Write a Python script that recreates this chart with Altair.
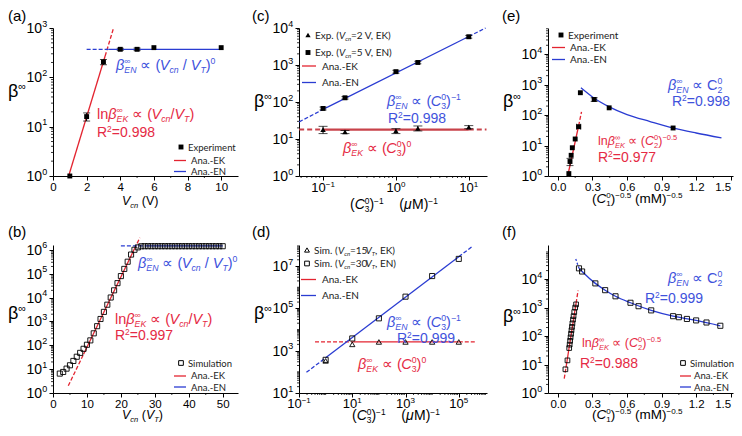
import math
import altair as alt
import pandas as pd

FONT = "Liberation Sans"
LFONT = "Lato"
RED_L = "#e32430"
BLUE_L = "#2a3cd2"
RED_T = "#e52a44"
BLUE_T = "#4052dc"
DARK_RED = "#c8424a"

# ---------------- data ----------------
# (a) experiment
a_x = [1, 2, 3, 4, 5, 6, 10]
a_y = [1.0, 16, 205, 370, 370, 400, 400]
a_err = [0, 3, 25, 18, 22, 0, 0]
a_ek_x = [0.93, 3.1, 3.6]
a_ek_y = [1.0, 270, 1000]
a_en_x = [2.0, 3.3, 10]
a_en_y = [370, 370, 370]

# (b) simulation
b_x = [2, 3, 4, 5, 6, 7, 8, 9, 10, 11, 12, 13, 14, 15, 16, 17, 18, 19, 20, 21, 22, 23, 24, 25,
       26, 27, 28, 29, 30, 31, 32, 33, 34, 35, 36, 37, 38, 39, 40, 41, 42, 43, 44, 45, 46, 47, 48, 49, 50]
b_y = [6.5, 7.6, 10.5, 14.5, 22, 33, 48, 71, 105, 160, 316, 630, 1260, 2500, 5000, 10000, 20000,
       40000, 79000, 158000, 316000, 630000, 1000000, 1260000,
       1400000, 1410000, 1410000, 1410000, 1410000, 1410000, 1410000, 1410000, 1410000, 1410000,
       1410000, 1410000, 1410000, 1410000, 1410000, 1410000, 1410000, 1410000, 1410000, 1410000,
       1410000, 1410000, 1410000, 1410000, 1410000]
b_ek_x = [4.5, 9, 24, 25.6]
b_ek_y = [2.0, 42, 1.1e6, 3.2e6]
b_en_x = [20, 27, 50]
b_en_y = [1.45e6, 1.45e6, 1.45e6]

# (c) experiment
c_x = [0.1, 0.2, 1, 2, 10]
c_en_y = [67, 130, 660, 1170, 5800]
c_en_err = [6, 10, 60, 90, 500]
c_ek_y = [18, 15.5, 16.5, 19.5, 21]
c_ek_err = [4, 1.5, 2.5, 3, 2]
c_ekl_x = [0.047, 0.1, 10, 17.5]
c_ekl_y = [18, 18, 18, 18]
c_enl_x = [0.047, 0.1, 10, 17]
c_enl_y = [29, 63, 5900, 10000]

# (d) simulation
d_x = [1, 10, 100, 1000, 1e4, 1e5]
d_en_y = [370, 3800, 34000, 360000, 3.4e6, 2.2e7]
d_ek_y = [330, 2000, 2600, 2600, 2600, 2600]
d_ekl_x = [0.4, 10, 1e5, 4e5]
d_ekl_y = [2600, 2600, 2600, 2600]
d_enl_x = [0.19, 1, 1e5, 3.2e5]
d_enl_y = [95, 460, 2.8e7, 8.5e7]

# (e) experiment
e_x = [0.095, 0.105, 0.115, 0.125, 0.15, 0.18, 0.195, 0.315, 0.445, 1.0]
e_y = [1.2, 3.0, 4.8, 8.5, 16.5, 42, 550, 330, 175, 38]
e_yerr = [0, 0.8, 0, 0, 0, 0, 0, 45, 0, 0]
e_xerr = [0, 0, 0, 0, 0, 0.018, 0, 0, 0, 0]
e_ekl_x = [0.085, 0.18, 0.205]
e_ekl_y = [1.0, 45, 130]
e_enl_x = [0.2, 0.3, 0.45, 0.6, 0.8, 1.0, 1.2, 1.42]
e_enl_y = [800, 400, 185, 105, 62, 38, 26, 18]

# (f) simulation
f_ek_x = [0.065, 0.083, 0.098, 0.102, 0.106, 0.110, 0.114, 0.118, 0.122, 0.126, 0.131, 0.136, 0.142, 0.150, 0.158]
f_ek_y = [6.8, 14, 38, 50, 68, 90, 120, 160, 210, 280, 380, 500, 700, 1000, 1300]
f_en_x = [0.183, 0.21, 0.325, 0.41, 0.5, 0.63, 0.7, 0.81, 1.0, 1.05, 1.12, 1.2, 1.29, 1.41]
f_en_y = [24000, 18600, 7100, 4100, 2500, 1480, 1120, 800, 500, 460, 400, 355, 300, 230]
f_ekl_x = [0.055, 0.07, 0.158, 0.175]
f_ekl_y = [3.2, 7.7, 1450, 4000]
f_enl_x = [0.155, 0.183, 0.21, 0.325, 0.41, 0.5, 0.63, 0.81, 1.0, 1.2, 1.41]
f_enl_y = [51000, 24000, 18600, 7100, 4100, 2500, 1480, 800, 500, 355, 230]

# ---------------- layout ----------------
P = {
    "a": dict(left=53, top=27, w=185, h=148, xt="linear", xd=[0, 11], yd=[1, 1e3]),
    "c": dict(left=299, top=27, w=188, h=148, xt="log", xd=[10 ** -1.33, 10 ** 1.25], yd=[1, 1e4]),
    "e": dict(left=548, top=27, w=185, h=148, xt="linear", xd=[-0.086, 1.52], yd=[1, 10 ** 4.87]),
    "b": dict(left=53, top=244, w=185, h=148, xt="linear", xd=[0, 54.5], yd=[1, 10 ** 6.2]),
    "d": dict(left=299, top=244, w=188, h=148, xt="log", xd=[0.1, 10 ** 6.06], yd=[10, 1e8]),
    "f": dict(left=548, top=244, w=185, h=148, xt="linear", xd=[-0.086, 1.52], yd=[1, 10 ** 5.2]),
}


def cx(p, px):
    g = P[p]
    f = (px - g["left"]) / g["w"]
    a, b = g["xd"]
    if g["xt"] == "log":
        la, lb = math.log10(a), math.log10(b)
        return 10 ** (la + f * (lb - la))
    return a + f * (b - a)


def cy(p, py):
    g = P[p]
    f = (g["top"] + g["h"] - py) / g["h"]
    la, lb = math.log10(g["yd"][0]), math.log10(g["yd"][1])
    return 10 ** (la + f * (lb - la))


AXBASE = dict(grid=False, title=None, domainColor="black", domainWidth=1, tickColor="black",
              tickWidth=1, tickSize=4, labelFont=FONT, labelColor="black", labelFontSize=11.5,
              labelPadding=1, labelOverlap=False)

SX, SY, AX, AY = {}, {}, {}, {}
for p, g in P.items():
    if g["xt"] == "log":
        SX[p] = alt.Scale(type="log", domain=g["xd"], nice=False)
    else:
        SX[p] = alt.Scale(type="linear", domain=g["xd"], nice=False, zero=False)
    SY[p] = alt.Scale(type="log", domain=g["yd"], nice=False)

AX["a"] = alt.Axis(values=[0, 2, 4, 6, 8, 10], format="d", labelFlush=False, **AXBASE)
AX["b"] = alt.Axis(values=[0, 10, 20, 30, 40, 50], format="d", labelFlush=False, **AXBASE)
AX["e"] = alt.Axis(values=[0, 0.3, 0.6, 0.9, 1.2, 1.5], format=".1f", labelFlush=4, **AXBASE)
AX["f"] = alt.Axis(values=[0, 0.3, 0.6, 0.9, 1.2, 1.5], format=".1f", labelFlush=4, **AXBASE)
AX["c"] = alt.Axis(values=[0.1, 1, 10], labels=False, **AXBASE)
AX["d"] = alt.Axis(values=[0.1, 10, 1000, 1e5], labels=False, **AXBASE)
YEXP = {"a": [0, 1, 2, 3], "b": [0, 1, 2, 3, 4, 5, 6], "c": [0, 1, 2, 3, 4],
        "d": [1, 3, 5, 7], "e": [0, 1, 2, 3, 4], "f": [0, 1, 2, 3, 4]}
for p in P:
    AY[p] = alt.Axis(values=[10.0 ** e for e in YEXP[p]], labels=False, **AXBASE)


def enc(p, xf="x", yf="y"):
    return dict(x=alt.X(f"{xf}:Q", scale=SX[p], axis=AX[p]),
                y=alt.Y(f"{yf}:Q", scale=SY[p], axis=AY[p]))


# ---------------- text helpers ----------------
CW = {' ': .278, '(': .333, ')': .333, '/': .278, '=': .584, '.': .278, ',': .278, '-': .333,
      '−': .584, 'A': .667, 'C': .722, 'E': .667, 'K': .667, 'M': .833, 'N': .722, 'R': .722,
      'S': .667, 'T': .611, 'V': .667, 'a': .556, 'c': .5, 'e': .556, 'i': .222, 'l': .222,
      'm': .833, 'n': .556, 'o': .556, 'p': .556, 'r': .333, 's': .5, 't': .278, 'u': .556,
      'x': .5, 'β': .575, '∞': .713, '∝': .72, 'μ': .576}
for d in "0123456789":
    CW[d] = .556


def tw(s, size):
    return sum(CW.get(ch, .556) for ch in s) * size


def rich(segs, x, y, size, color, font=FONT, ws=1.0):
    rows = []
    for seg in segs:
        group = seg if isinstance(seg, list) else [seg]
        adv = 0.0
        for text, mode in group:
            if "p" in mode:
                s, dy = size * 0.6, -size * 0.38
            elif "b" in mode:
                s, dy = size * 0.6, size * 0.22
            else:
                s, dy = size, 0.0
            lead = len(text) - len(text.lstrip())
            rows.append(dict(px=x + tw(text[:lead], s) * ws, py=y + dy, t=text.strip(), s=s,
                             c=color, it=("i" in mode), f=font))
            adv = max(adv, tw(text, s) * ws)
        x += adv
    return rows


def text_layers(p, rows):
    df = pd.DataFrame(rows)
    df["x"] = [cx(p, v) for v in df.px]
    df["y"] = [cy(p, v) for v in df.py]
    out = []
    for (it, f), g in df.groupby(["it", "f"]):
        out.append(alt.Chart(g[["x", "y", "t", "s", "c"]].reset_index(drop=True)).mark_text(
            align="left", baseline="alphabetic", font=f,
            fontStyle="italic" if it else "normal").encode(
            **enc(p), text="t:N", size=alt.Size("s:Q", scale=None),
            color=alt.Color("c:N", scale=None)))
    return out


def line(p, xs, ys, color, dash=None, width=1.3, interp="linear"):
    df = pd.DataFrame({"x": xs, "y": ys, "o": list(range(len(xs)))})
    kw = dict(color=color, strokeWidth=width, interpolate=interp)
    if dash:
        kw["strokeDash"] = dash
    return alt.Chart(df).mark_line(**kw).encode(**enc(p), order="o:Q")


def pts(p, xs, ys, shape="square", filled=True, size=24, sw=1.0):
    df = pd.DataFrame({"x": xs, "y": ys})
    return alt.Chart(df).mark_point(shape=shape, filled=filled, size=size, color="black",
                                    strokeWidth=sw, opacity=1).encode(**enc(p))


def errv(p, xs, ys, es, cap=7):
    rows = [(x, y - e, y + e) for x, y, e in zip(xs, ys, es) if e > 0]
    df = pd.DataFrame(rows, columns=["x", "lo", "hi"])
    capdf = pd.DataFrame([(r[0], r[1]) for r in rows] + [(r[0], r[2]) for r in rows],
                         columns=["x", "y"])
    r = alt.Chart(df).mark_rule(color="black", strokeWidth=1).encode(
        x=alt.X("x:Q", scale=SX[p], axis=AX[p]), y=alt.Y("lo:Q", scale=SY[p], axis=AY[p]),
        y2="hi:Q")
    c = alt.Chart(capdf).mark_tick(orient="horizontal", size=cap, thickness=1,
                                   color="black").encode(**enc(p))
    return [r, c]


def errh(p, xs, ys, es, cap=6):
    rows = [(x - e, x + e, y) for x, y, e in zip(xs, ys, es) if e > 0]
    df = pd.DataFrame(rows, columns=["lo", "hi", "y"])
    capdf = pd.DataFrame([(r[0], r[2]) for r in rows] + [(r[1], r[2]) for r in rows],
                         columns=["x", "y"])
    r = alt.Chart(df).mark_rule(color="black", strokeWidth=1).encode(
        x=alt.X("lo:Q", scale=SX[p], axis=AX[p]), x2="hi:Q",
        y=alt.Y("y:Q", scale=SY[p], axis=AY[p]))
    c = alt.Chart(capdf).mark_tick(orient="vertical", size=cap, thickness=1,
                                   color="black").encode(**enc(p))
    return [r, c]


def minor_y(p, vals, L=2):
    df = pd.DataFrame({"y": vals})
    return alt.Chart(df).mark_rule(color="black", strokeWidth=0.8).encode(
        y=alt.Y("y:Q", scale=SY[p], axis=AY[p]), x=alt.value(-L), x2=alt.value(0))


def minor_x(p, vals, L=2):
    h = P[p]["h"]
    df = pd.DataFrame({"x": vals})
    return alt.Chart(df).mark_rule(color="black", strokeWidth=0.8).encode(
        x=alt.X("x:Q", scale=SX[p], axis=AX[p]), y=alt.value(h), y2=alt.value(h + L))


def log_minors(lo, hi, skip_decades=()):
    out = []
    e = math.floor(math.log10(lo))
    while 10 ** e <= hi:
        for k in range(1, 10):
            v = k * 10.0 ** e
            if k == 1 and e not in skip_decades:
                continue
            if lo < v < hi:
                out.append(v)
        e += 1
    return out


def ylabels(p):
    df = pd.DataFrame({"y": [10.0 ** e for e in YEXP[p]], "e": [str(e) for e in YEXP[p]]})
    xr = -6 - 0.556 * 9
    t10 = alt.Chart(df).mark_text(align="right", baseline="alphabetic", font=FONT, fontSize=14,
                                  dy=5, color="black").encode(
        y=alt.Y("y:Q", scale=SY[p], axis=AY[p]), x=alt.value(xr), text=alt.value("10"))
    tex = alt.Chart(df).mark_text(align="left", baseline="alphabetic", font=FONT, fontSize=9,
                                  dy=-1.5, color="black").encode(
        y=alt.Y("y:Q", scale=SY[p], axis=AY[p]), x=alt.value(xr + 0.3), text="e:N")
    return [t10, tex]


def xlabels(p, exps, size=13, base=16):
    h = P[p]["h"]
    out = []
    for e in exps:
        es = str(e).replace("-", "−")
        w10 = 1.112 * size
        we = tw(es, size * 0.62)
        tot = w10 + we
        df = pd.DataFrame({"x": [10.0 ** e]})
        out.append(alt.Chart(df).mark_text(align="left", baseline="alphabetic", font=FONT,
                                           fontSize=size, dx=-tot / 2, color="black").encode(
            x=alt.X("x:Q", scale=SX[p], axis=AX[p]), y=alt.value(h + base), text=alt.value("10")))
        out.append(alt.Chart(df).mark_text(align="left", baseline="alphabetic", font=FONT,
                                           fontSize=size * 0.62, dx=-tot / 2 + w10,
                                           dy=-size * 0.38, color="black").encode(
            x=alt.X("x:Q", scale=SX[p], axis=AX[p]), y=alt.value(h + base), text=alt.value(es)))
    return out


def leg_pt(p, px, py, shape="square", filled=True, size=24):
    return pts(p, [cx(p, px)], [cy(p, py)], shape=shape, filled=filled, size=size)


def leg_line(p, x1, x2, py, color):
    df = pd.DataFrame({"x": [cx(p, x1)], "x2": [cx(p, x2)], "y": [cy(p, py)]})
    return alt.Chart(df).mark_rule(color=color, strokeWidth=1.3).encode(
        x=alt.X("x:Q", scale=SX[p], axis=AX[p]), x2="x2:Q",
        y=alt.Y("y:Q", scale=SY[p], axis=AY[p]))


def beta_title(x, y):
    return rich([("β", "n"), ("∞", "p")], x, y, 18, "black")


def plab(s, x, y):
    return rich([(s, "n")], x, y, 15, "black")


BEN = [("β", "i"), [("∞", "p"), ("EN", "ib")]]
BEK = [("β", "i"), [("∞", "p"), ("EK", "ib")]]
DASH = [4, 2]
LEGC = "#222222"
FS = 14.5

# ---------------- panel (a) ----------------
L = []
L.append(minor_y("a", log_minors(1, 1e3)))
L.append(minor_x("a", [1, 3, 5, 7, 9]))
L += ylabels("a")
L.append(line("a", a_ek_x[:2], a_ek_y[:2], RED_L))
L.append(line("a", a_ek_x[1:], a_ek_y[1:], RED_L, DASH))
L.append(line("a", a_en_x[:2], a_en_y[:2], BLUE_L, DASH))
L.append(line("a", a_en_x[1:], a_en_y[1:], BLUE_L))
L += errv("a", a_x, a_y, a_err)
L.append(pts("a", a_x, a_y))
T = []
T += plab("(a)", 8, 20)
T += beta_title(8, 96)
T += rich(BEN + [(" ∝ (", "n"), ("V", "i"), ("cn", "ib"), (" / ", "n"), ("V", "i"), ("T", "ib"),
                 (")", "n"), ("0", "p")], 116, 69, FS, BLUE_T)
T += rich([("ln", "n")] + BEK + [(" ∝ (", "n"), ("V", "i"), ("cn", "ib"), ("/", "n"), ("V", "i"),
                                ("T", "ib"), (")", "n")], 97, 118, FS, RED_T)
T += rich([("R", "n"), ("2", "p"), ("=0.998", "n")], 97, 136, 14, RED_T)
T += rich([("V", "i"), ("cn", "ib"), (" (V)", "n")], 122, 204, 12.5, "black")
T += rich([("Experiment", "n")], 188, 149.5, 9.5, LEGC, LFONT, 0.92)
T += rich([("Ana.-EK", "n")], 191, 162.5, 9.5, LEGC, LFONT, 0.92)
T += rich([("Ana.-EN", "n")], 191, 174, 9.5, LEGC, LFONT, 0.92)
L += text_layers("a", T)
L.append(leg_pt("a", 181, 146))
L.append(leg_line("a", 174, 186, 159.5, RED_L))
L.append(leg_line("a", 174, 186, 170.5, BLUE_L))
A = alt.layer(*L).properties(width=P["a"]["w"], height=P["a"]["h"])

# ---------------- panel (b) ----------------
L = []
L.append(minor_y("b", log_minors(1, 10 ** 6.2)))
L.append(minor_x("b", [5, 15, 25, 35, 45]))
L += ylabels("b")
L.append(line("b", b_ek_x[1:3], b_ek_y[1:3], RED_L))
L.append(line("b", b_ek_x[:2], b_ek_y[:2], RED_L, DASH))
L.append(line("b", b_ek_x[2:], b_ek_y[2:], RED_L, DASH))
L.append(line("b", b_en_x[:2], b_en_y[:2], BLUE_L, DASH))
L.append(line("b", b_en_x[1:], b_en_y[1:], BLUE_L))
L.append(pts("b", b_x, b_y, filled=False, size=26, sw=0.9))
T = []
T += plab("(b)", 8, 236)
T += beta_title(8, 318)
T += rich(BEN + [(" ∝ (", "n"), ("V", "i"), ("cn", "ib"), (" / ", "n"), ("V", "i"), ("T", "ib"),
                 (")", "n"), ("0", "p")], 138, 267, FS, BLUE_T)
T += rich([("ln", "n")] + BEK + [(" ∝ (", "n"), ("V", "i"), ("cn", "ib"), ("/", "n"), ("V", "i"),
                                ("T", "ib"), (")", "n")], 115, 323, FS, RED_T)
T += rich([("R", "n"), ("2", "p"), ("=0.997", "n")], 115, 339, 14, RED_T)
T += rich([("V", "i"), ("cn", "ib"), (" (", "n"), ("V", "i"), ("T", "ib"), (")", "n")],
          122, 418, 12.5, "black")
T += rich([("Simulation", "n")], 188, 365.5, 9.5, LEGC, LFONT, 0.92)
T += rich([("Ana.-EK", "n")], 191, 378, 9.5, LEGC, LFONT, 0.92)
T += rich([("Ana.-EN", "n")], 191, 389.5, 9.5, LEGC, LFONT, 0.92)
L += text_layers("b", T)
L.append(leg_pt("b", 181, 362, filled=False, size=22))
L.append(leg_line("b", 174, 186, 375, RED_L))
L.append(leg_line("b", 174, 186, 386, BLUE_L))
B = alt.layer(*L).properties(width=P["b"]["w"], height=P["b"]["h"])

# ---------------- panel (c) ----------------
L = []
L.append(minor_y("c", log_minors(1, 1e4)))
L.append(minor_x("c", log_minors(P["c"]["xd"][0], P["c"]["xd"][1])))
L += ylabels("c")
L += xlabels("c", [-1, 0, 1])
L.append(line("c", c_ekl_x[1:3], c_ekl_y[1:3], DARK_RED, width=2.2))
L.append(line("c", c_ekl_x[:2], c_ekl_y[:2], DARK_RED, [5, 3], width=2.0))
L.append(line("c", c_ekl_x[2:], c_ekl_y[2:], DARK_RED, [5, 3], width=2.0))
L.append(line("c", c_enl_x[1:3], c_enl_y[1:3], BLUE_L))
L.append(line("c", c_enl_x[:2], c_enl_y[:2], BLUE_L, DASH))
L.append(line("c", c_enl_x[2:], c_enl_y[2:], BLUE_L, DASH))
L += errv("c", c_x, c_en_y, c_en_err)
L += errv("c", c_x, c_ek_y, c_ek_err, cap=9)
L.append(pts("c", c_x, c_en_y))
L.append(pts("c", c_x, c_ek_y, shape="triangle-up", size=30))
T = []
T += plab("(c)", 252, 20)
T += beta_title(254, 106)
C03 = [("C", "i"), [("0", "p"), ("3", "b")]]
T += rich(BEN + [(" ∝ (", "n")] + C03 + [(")", "n"), ("−1", "p")], 387, 105, FS, BLUE_T)
T += rich([("R", "n"), ("2", "p"), ("=0.998", "n")], 388, 122, 14, BLUE_T)
T += rich(BEK + [(" ∝ (", "n")] + C03 + [(")", "n"), ("0", "p")], 343, 152, FS, RED_T)
T += rich([("(", "n")] + C03 + [(")", "n"), ("−1", "p"), ("    (", "n"), ("μ", "i"), ("M)", "n"),
                                 ("−1", "p")], 350, 208, 14, "black")
T += rich([("Exp. (", "n"), ("V", "i"), ("cn", "ib"), ("=2 V, EK)", "n")], 315, 37.5, 10,
          LEGC, LFONT, 0.92)
T += rich([("Exp. (", "n"), ("V", "i"), ("cn", "ib"), ("=5 V, EN)", "n")], 315, 55, 10,
          LEGC, LFONT, 0.92)
T += rich([("Ana.-EK", "n")], 322, 68.5, 10, LEGC, LFONT, 0.92)
T += rich([("Ana.-EN", "n")], 322, 85, 10, LEGC, LFONT, 0.92)
L += text_layers("c", T)
L.append(leg_pt("c", 308, 34, shape="triangle-up", size=28))
L.append(leg_pt("c", 308, 51.5))
L.append(leg_line("c", 302, 316, 65, RED_L))
L.append(leg_line("c", 302, 316, 81.5, BLUE_L))
C = alt.layer(*L).properties(width=P["c"]["w"], height=P["c"]["h"])

# ---------------- panel (d) ----------------
L = []
L.append(minor_y("d", log_minors(10, 1e8, skip_decades=(2, 4, 6))))
L.append(minor_x("d", log_minors(0.1, P["d"]["xd"][1], skip_decades=(0, 2, 4, 6))))
L += ylabels("d")
L += xlabels("d", [-1, 1, 3, 5], base=15)
L.append(line("d", d_ekl_x[1:3], d_ekl_y[1:3], RED_L))
L.append(line("d", d_ekl_x[:2], d_ekl_y[:2], RED_L, DASH))
L.append(line("d", d_ekl_x[2:], d_ekl_y[2:], RED_L, DASH))
L.append(line("d", d_enl_x[1:3], d_enl_y[1:3], BLUE_L))
L.append(line("d", d_enl_x[:2], d_enl_y[:2], BLUE_L, DASH))
L.append(line("d", d_enl_x[2:], d_enl_y[2:], BLUE_L, DASH))
L.append(pts("d", d_x, d_ek_y, shape="triangle-up", filled=False, size=28, sw=0.9))
L.append(pts("d", d_x, d_en_y, filled=False, size=26, sw=0.9))
T = []
T += plab("(d)", 252, 236)
T += beta_title(254, 318)
T += rich(BEN + [(" ∝ (", "n")] + C03 + [(")", "n"), ("−1", "p")], 387, 326, FS, BLUE_T)
T += rich([("R", "n"), ("2", "p"), ("=0.999", "n")], 397, 342, 14, BLUE_T)
T += rich(BEK + [(" ∝ (", "n")] + C03 + [(")", "n"), ("0", "p")], 358, 368, FS, RED_T)
T += rich([("(", "n")] + C03 + [(")", "n"), ("−1", "p"), ("    (", "n"), ("μ", "i"), ("M)", "n"),
                                 ("−1", "p")], 352, 419, 14, "black")
T += rich([("Sim. (", "n"), ("V", "i"), ("cn", "ib"), ("=15", "n"), ("V", "i"), ("T", "ib"),
           (", EK)", "n")], 314, 252.5, 10, LEGC, LFONT, 0.92)
T += rich([("Sim. (", "n"), ("V", "i"), ("cn", "ib"), ("=30", "n"), ("V", "i"), ("T", "ib"),
           (", EN)", "n")], 314, 266, 10, LEGC, LFONT, 0.92)
T += rich([("Ana.-EK", "n")], 322, 282, 10, LEGC, LFONT, 0.92)
T += rich([("Ana.-EN", "n")], 322, 298, 10, LEGC, LFONT, 0.92)
L += text_layers("d", T)
L.append(leg_pt("d", 307, 249, shape="triangle-up", filled=False, size=24))
L.append(leg_pt("d", 307, 262.5, filled=False, size=22))
L.append(leg_line("d", 301, 316, 278.5, RED_L))
L.append(leg_line("d", 301, 316, 294.5, BLUE_L))
D = alt.layer(*L).properties(width=P["d"]["w"], height=P["d"]["h"])

# ---------------- panel (e) ----------------
L = []
L.append(minor_y("e", log_minors(1, 10 ** 4.87)))
L.append(minor_x("e", [0.15, 0.45, 0.75, 1.05, 1.35]))
L += ylabels("e")
L.append(line("e", e_ekl_x[:2], e_ekl_y[:2], RED_L))
L.append(line("e", e_ekl_x[1:], e_ekl_y[1:], RED_L, DASH))
L.append(line("e", e_enl_x, e_enl_y, BLUE_L, interp="monotone"))
L += errv("e", e_x, e_y, e_yerr)
L += errh("e", e_x, e_y, e_xerr)
L.append(pts("e", e_x, e_y))
T = []
T += plab("(e)", 502, 20)
T += beta_title(503, 106)
T += rich(BEN + [(" ∝ ", "n"), ("C", "n"), [("0", "p"), ("2", "b")]], 668, 89, FS, BLUE_T)
T += rich([("R", "n"), ("2", "p"), ("=0.998", "n")], 672, 105, 14, BLUE_T)
T += rich([("ln", "n")] + BEK + [(" ∝ (", "n"), ("C", "i"), [("0", "p"), ("2", "b")], (")", "n"),
                                ("−0.5", "p")], 598, 144, 12.5, RED_T)
T += rich([("R", "n"), ("2", "p"), ("=0.977", "n")], 598, 161, 14, RED_T)
T += rich([("(", "n"), ("C", "i"), [("0", "p"), ("1", "b")], (")", "n"), ("−0.5", "p"),
           (" (mM)", "n"), ("−0.5", "p")], 592, 202, 13.5, "black")
T += rich([("Experiment", "n")], 568, 37.5, 10, LEGC, LFONT, 0.92)
T += rich([("Ana.-EK", "n")], 570, 50, 10, LEGC, LFONT, 0.92)
T += rich([("Ana.-EN", "n")], 570, 62, 10, LEGC, LFONT, 0.92)
L += text_layers("e", T)
L.append(leg_pt("e", 561, 34))
L.append(leg_line("e", 552, 565, 46.5, RED_L))
L.append(leg_line("e", 552, 565, 58.5, BLUE_L))
E = alt.layer(*L).properties(width=P["e"]["w"], height=P["e"]["h"])

# ---------------- panel (f) ----------------
L = []
L.append(minor_y("f", log_minors(1, 10 ** 5.2)))
L.append(minor_x("f", [0.15, 0.45, 0.75, 1.05, 1.35]))
L += ylabels("f")
L.append(line("f", f_ekl_x[1:3], f_ekl_y[1:3], RED_L))
L.append(line("f", f_ekl_x[:2], f_ekl_y[:2], RED_L, DASH))
L.append(line("f", f_ekl_x[2:], f_ekl_y[2:], RED_L, DASH))
L.append(line("f", f_enl_x[1:], f_enl_y[1:], BLUE_L, interp="monotone"))
L.append(line("f", f_enl_x[:2], f_enl_y[:2], BLUE_L, [2, 2]))
L.append(pts("f", f_ek_x, f_ek_y, filled=False, size=22, sw=0.9))
L.append(pts("f", f_en_x, f_en_y, filled=False, size=26, sw=0.9))
T = []
T += plab("(f)", 502, 236)
T += beta_title(503, 321)
T += rich(BEN + [(" ∝ ", "n"), ("C", "n"), [("0", "p"), ("2", "b")]], 668, 282, FS, BLUE_T)
T += rich([("R", "n"), ("2", "p"), ("=0.999", "n")], 645, 302, 14, BLUE_T)
T += rich([("ln", "n")] + BEK + [(" ∝ (", "n"), ("C", "i"), [("0", "p"), ("2", "b")], (")", "n"),
                                ("−0.5", "p")], 582, 346, 12.5, RED_T)
T += rich([("R", "n"), ("2", "p"), ("=0.988", "n")], 580, 367, 14, RED_T)
T += rich([("(", "n"), ("C", "i"), [("0", "p"), ("1", "b")], (")", "n"), ("−0.5", "p"),
           (" (mM)", "n"), ("−0.5", "p")], 592, 418, 13.5, "black")
T += rich([("Simulation", "n")], 690, 365.5, 9.5, LEGC, LFONT, 0.92)
T += rich([("Ana.-EK", "n")], 694, 378, 9.5, LEGC, LFONT, 0.92)
T += rich([("Ana.-EN", "n")], 694, 389.5, 9.5, LEGC, LFONT, 0.92)
L += text_layers("f", T)
L.append(leg_pt("f", 683, 362, filled=False, size=22))
L.append(leg_line("f", 680, 691, 375, RED_L))
L.append(leg_line("f", 680, 691, 386, BLUE_L))
F = alt.layer(*L).properties(width=P["f"]["w"], height=P["f"]["h"])

chart = alt.concat(A, C, E, B, D, F, columns=3, spacing={"row": 69, "column": 61},
                   bounds="flush", align="each").properties(
    padding=0, background="white"
).configure_view(stroke=None)

chart.save("out.html", embed_options={"renderer": "svg", "actions": False})
